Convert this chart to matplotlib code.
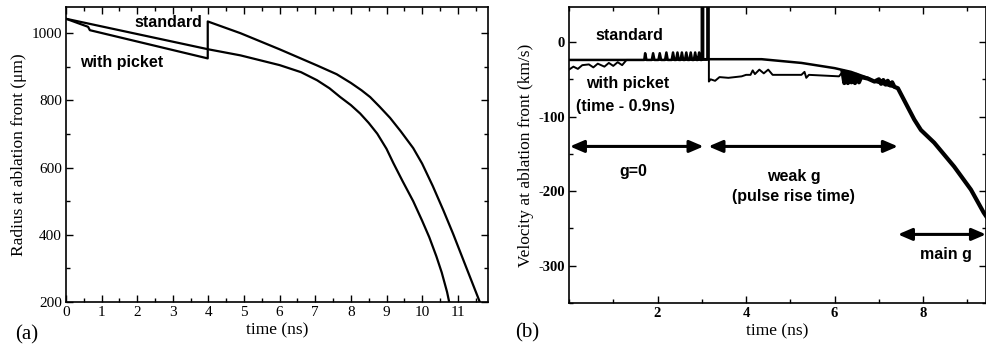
import matplotlib
matplotlib.use("Agg")
import matplotlib.pyplot as plt
import numpy as np
from matplotlib.ticker import MultipleLocator

plt.rcParams["axes.unicode_minus"] = False

# ---------------- data: panel (a) ----------------
t_std_a = [0.0, 4.0, 4.9, 6.0, 6.6, 7.05, 7.4, 7.7, 8.0, 8.26, 8.5, 8.74, 9.0, 9.19, 9.45,
           9.75, 10.0, 10.2, 10.4, 10.55, 10.7, 10.76]
r_std_a = [1043, 952, 934, 905, 884, 860, 836, 810, 786, 761, 733, 701, 656, 614, 560,
           500, 442, 393, 336, 288, 230, 200]

t_pick_a = [0.0, 0.62, 0.67, 3.98, 3.98, 4.9, 6.0, 7.05, 7.6, 8.0, 8.3, 8.54, 8.8, 9.1,
            9.4, 9.75, 10.0, 10.3, 10.6, 10.87, 11.25, 11.62]
r_pick_a = [1043, 1019, 1009, 925, 1035, 1000, 952, 904, 878, 852, 830, 810, 782, 748,
            708, 658, 612, 545, 472, 403, 300, 200]

xticks_a = list(range(0, 12))
yticks_a = [200, 400, 600, 800, 1000]

# ---------------- data: panel (b) ----------------
t_std_b = [0.0, 1.65, 1.70, 1.72, 1.75, 1.87, 1.90, 1.93, 2.02, 2.05, 2.08, 2.17, 2.20, 2.23,
           2.32, 2.35, 2.38, 2.42, 2.45, 2.48, 2.52, 2.55, 2.58, 2.62, 2.65, 2.68, 2.72, 2.75,
           2.78, 2.82, 2.85, 2.88, 2.91, 2.94, 2.97, 3.00, 3.00, 3.03, 3.03, 3.5, 4.35, 5.25,
           6.0, 6.37, 6.75, 6.9, 7.43, 7.65, 7.8, 7.95, 8.25, 8.7, 9.08, 9.37, 9.45]
v_std_b = [-24, -24, -24, -15, -24, -24, -15, -24, -24, -15, -24, -24, -14, -24,
           -24, -14, -24, -24, -14, -24, -24, -14, -24, -24, -14, -24, -24, -14,
           -24, -24, -14, -24, -24, -14, -24, -24, 60, 60, -23, -23, -23, -28,
           -35, -40, -48, -53, -62, -87, -104, -118, -135, -167, -198, -229, -236]

t_pick_b = [0.0, 0.1, 0.2, 0.3, 0.45, 0.55, 0.65, 0.8, 0.9, 1.0, 1.1, 1.2, 1.3, 3.12,
            3.12, 3.16, 3.16, 3.2, 3.3, 3.4, 3.6, 3.9, 4.0, 4.1, 4.15, 4.2, 4.3, 4.4,
            4.5, 4.6, 5.25, 5.32, 5.36, 5.42, 6.1, 6.18, 6.22, 6.26, 6.30, 6.34, 6.38,
            6.42, 6.46, 6.50, 6.55, 6.60, 6.75, 6.9, 7.0, 7.05, 7.1, 7.15, 7.2, 7.25,
            7.3, 7.35, 7.43, 7.65, 7.8, 7.95, 8.25, 8.7, 9.08, 9.37, 9.45]
v_pick_b = [-37, -33, -36, -31, -30, -34, -29, -33, -28, -32, -27, -31, -24, -24,
            60, 60, -53, -50, -52, -47, -48, -46, -44, -44, -38, -43, -37, -42,
            -37, -44, -44, -40, -48, -44, -46, -40, -55, -41, -55, -42, -54,
            -43, -55, -44, -54, -47, -49, -53, -50, -56, -51, -57, -52, -58,
            -54, -60, -62, -87, -104, -118, -135, -167, -198, -229, -236]

xticks_b = [2, 4, 6, 8]
yticks_b = [0, -100, -200, -300]

# ---------------- figure ----------------
W, H = 986, 353
fig = plt.figure(figsize=(W / 100, H / 100), dpi=100)

serif = "Liberation Serif"
sans = "Liberation Sans"

def axes_px(l, r, t, b):
    return fig.add_axes([l / W, 1 - b / H, (r - l) / W, (b - t) / H])

def style(ax, bold_ticks=False, fs=11):
    for s in ax.spines.values():
        s.set_linewidth(1.2)
    ax.tick_params(which="both", direction="in", top=True, right=True, width=1.0,
                   pad=3, labelsize=fs)
    ax.tick_params(which="major", length=5)
    ax.tick_params(which="minor", length=3)
    for lab in ax.get_xticklabels() + ax.get_yticklabels():
        lab.set_fontfamily(serif)
        if bold_ticks:
            lab.set_fontweight("bold")

# ---- panel (a)
axa = axes_px(66, 488, 7, 302)
axa.plot(t_std_a, r_std_a, color="black", lw=1.6)
axa.plot(t_pick_a, r_pick_a, color="black", lw=1.6)
axa.set_xlim(0, 11.85)
axa.set_ylim(200, 1078)
axa.set_xticks(xticks_a)
axa.set_yticks(yticks_a)
axa.xaxis.set_minor_locator(MultipleLocator(0.5))
axa.yaxis.set_minor_locator(MultipleLocator(100))
style(axa, fs=11)
axa.set_xlabel("time (ns)", fontfamily=serif, fontsize=12.5, labelpad=2)
axa.set_ylabel("Radius at ablation front (\u03bcm)", fontfamily=serif, fontsize=12.5, labelpad=3)
axa.text(2.87, 1032, "standard", fontfamily=sans, fontweight="bold", fontsize=11.5,
         ha="center", va="center")
axa.text(1.57, 913, "with picket", fontfamily=sans, fontweight="bold", fontsize=11.5,
         ha="center", va="center")
fig.text(27 / W, 1 - 335 / H, "(a)", fontfamily=serif, fontsize=15, ha="center", va="center")

# ---- panel (b)
axb = axes_px(569, 986, 7, 303)
t_pick_arr = np.array(t_pick_b)
v_pick_arr = np.array(v_pick_b)
axb.plot(t_std_b, v_std_b, color="black", lw=1.8)
axb.plot(t_pick_b, v_pick_b, color="black", lw=1.4)
late = t_pick_arr >= 6.15
axb.plot(t_pick_arr[late], v_pick_arr[late], color="black", lw=3.0)
axb.set_xlim(0, 9.42)
axb.set_ylim(-350, 47)
axb.set_xticks(xticks_b)
axb.set_yticks(yticks_b)
axb.xaxis.set_minor_locator(MultipleLocator(1))
axb.yaxis.set_minor_locator(MultipleLocator(50))
style(axb, bold_ticks=True, fs=10.5)
axb.set_xlabel("time (ns)", fontfamily=serif, fontsize=12.5, labelpad=2)
axb.set_ylabel("Velocity at ablation front (km/s)", fontfamily=serif, fontsize=12.5, labelpad=3)

txt = dict(fontfamily=sans, fontweight="bold", fontsize=11.5, ha="center", va="center")
axb.text(1.37, 9, "standard", **txt)
axb.text(1.33, -55, "with picket", **txt)
axb.text(1.28, -86, "(time - 0.9ns)", **txt)
axb.text(1.46, -174, "g=0", **txt)
axb.text(5.07, -181, "weak g", **txt)
axb.text(5.07, -207, "(pulse rise time)", **txt)
axb.text(8.51, -285, "main g", **txt)

arr = dict(arrowstyle="<|-|>,head_length=0.7,head_width=0.3", color="black", lw=2.2,
           shrinkA=0, shrinkB=0, mutation_scale=12)
axb.annotate("", xy=(0.02, -140), xytext=(3.04, -140), arrowprops=arr)
axb.annotate("", xy=(3.15, -140), xytext=(7.43, -140), arrowprops=arr)
axb.annotate("", xy=(7.43, -258), xytext=(9.42, -258), arrowprops=arr, annotation_clip=False)
fig.text(527 / W, 1 - 333 / H, "(b)", fontfamily=serif, fontsize=15, ha="center", va="center")

fig.savefig("out.png", dpi=100)
